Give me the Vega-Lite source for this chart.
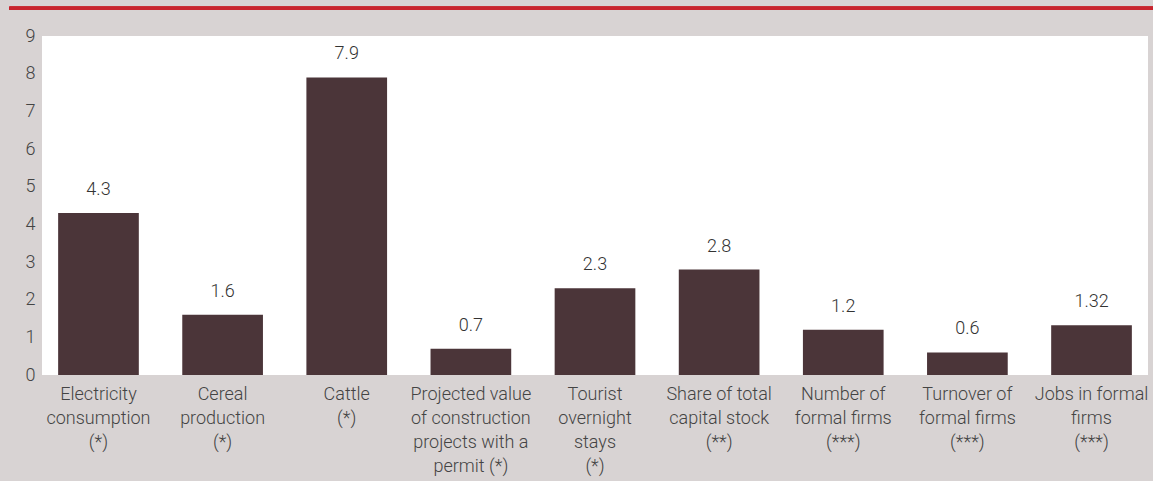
{
  "$schema": "https://vega.github.io/schema/vega-lite/v6.json",
  "width": 1106,
  "height": 339,
  "autosize": {"type": "none"},
  "padding": {"left": 42, "top": 36, "right": 5, "bottom": 106},
  "background": "#d8d3d3",
  "config": {
    "view": {"fill": "white", "stroke": null},
    "font": "Roboto",
    "axis": {"labelFont": "Roboto", "labelFontWeight": 300, "labelColor": "#444444", "labelFontSize": 18, "domain": false, "ticks": false, "grid": false, "title": null}
  },
  "data": {
    "values": [
      {"label": "Electricity|consumption|(*)", "value": 4.3, "text": "4.3"},
      {"label": "Cereal|production|(*)", "value": 1.6, "text": "1.6"},
      {"label": "Cattle|(*)", "value": 7.9, "text": "7.9"},
      {"label": "Projected value|of construction|projects with a|permit (*)", "value": 0.7, "text": "0.7"},
      {"label": "Tourist|overnight|stays|(*)", "value": 2.3, "text": "2.3"},
      {"label": "Share of total|capital stock|(**)", "value": 2.8, "text": "2.8"},
      {"label": "Number of|formal firms|(***)", "value": 1.2, "text": "1.2"},
      {"label": "Turnover of|formal firms|(***)", "value": 0.6, "text": "0.6"},
      {"label": "Jobs in formal|firms|(***)", "value": 1.32, "text": "1.32"}
    ]
  },
  "resolve": {"scale": {"x": "independent"}, "axis": {"x": "independent", "y": "independent"}},
  "layer": [
    {
      "encoding": {
        "x": {
          "field": "label", "type": "nominal", "sort": null,
          "scale": {"paddingInner": 0.35, "paddingOuter": 0.13},
          "axis": {"labelAngle": 0, "labelExpr": "split(datum.label, '|')", "labelLineHeight": 24, "labelPadding": 10, "labelBaseline": "top"}
        },
        "y": {"field": "value", "type": "quantitative", "scale": {"domain": [0, 9], "nice": false}, "axis": {"tickCount": 9, "labelPadding": 7, "labelOverlap": false}}
      },
      "layer": [
        {"mark": {"type": "bar", "color": "#4b3539"}},
        {
          "mark": {"type": "text", "baseline": "bottom", "dy": -14, "fontSize": 18, "fontWeight": 300, "color": "#333333"},
          "encoding": {"text": {"field": "text"}}
        }
      ]
    },
    {
      "mark": {"type": "rule", "color": "#c8242e", "strokeWidth": 3, "clip": false},
      "encoding": {
        "y": {"datum": 9.74, "type": "quantitative", "axis": null},
        "x": {"datum": -0.0294, "type": "quantitative", "scale": {"domain": [0, 1]}, "axis": null},
        "x2": {"datum": 1.01}
      }
    }
  ]
}
